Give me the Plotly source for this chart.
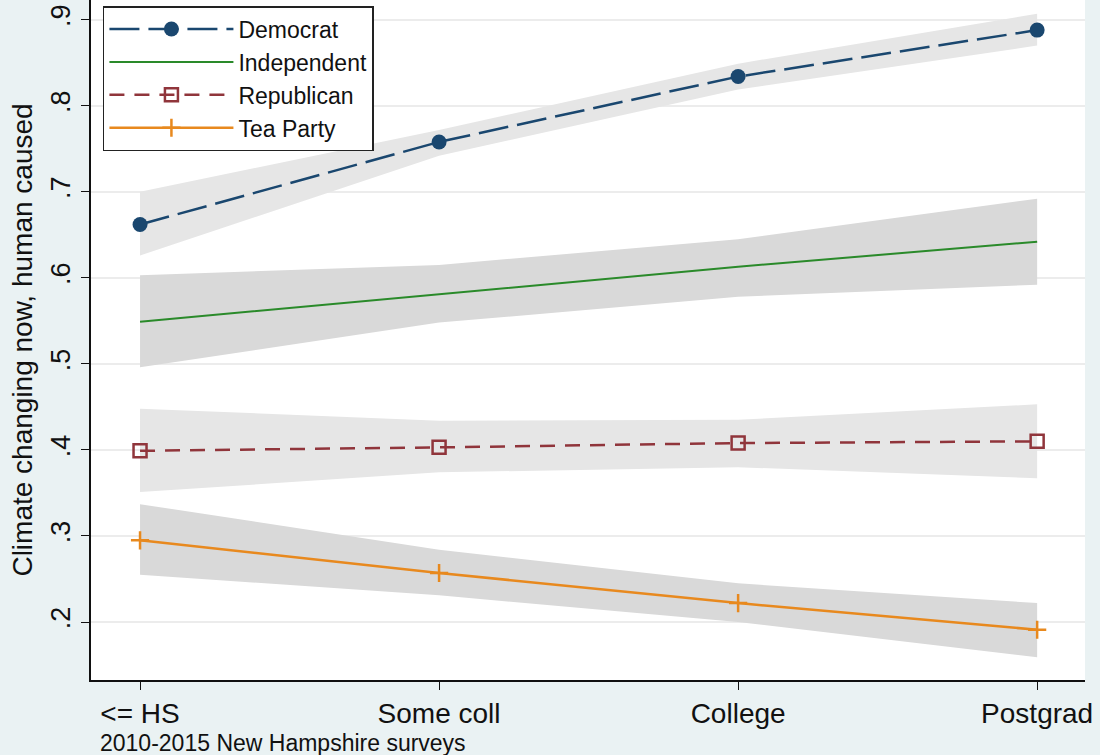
import plotly.graph_objects as go

categories = ["<= HS", "Some coll", "College", "Postgrad"]
xpos = [1, 2, 3, 4]

dem = [0.662, 0.758, 0.834, 0.888]
dem_lo = [0.626, 0.742, 0.819, 0.870]
dem_hi = [0.700, 0.772, 0.849, 0.907]

ind = [0.549, 0.581, 0.613, 0.642]
ind_lo = [0.496, 0.548, 0.578, 0.592]
ind_hi = [0.603, 0.615, 0.645, 0.692]

rep = [0.399, 0.403, 0.408, 0.410]
rep_lo = [0.351, 0.374, 0.380, 0.367]
rep_hi = [0.448, 0.434, 0.435, 0.453]

tea = [0.295, 0.257, 0.222, 0.191]
tea_lo = [0.255, 0.231, 0.200, 0.159]
tea_hi = [0.337, 0.284, 0.245, 0.222]

ytick_vals = [0.2, 0.3, 0.4, 0.5, 0.6, 0.7, 0.8, 0.9]
ytick_text = [".2", ".3", ".4", ".5", ".6", ".7", ".8", ".9"]

fig = go.Figure()

bands = [
    (dem_lo, dem_hi, "#e6e6e6"),
    (ind_lo, ind_hi, "#d9d9d9"),
    (rep_lo, rep_hi, "#e6e6e6"),
    (tea_lo, tea_hi, "#d9d9d9"),
]
for lo, hi, col in bands:
    fig.add_trace(go.Scatter(
        x=xpos + xpos[::-1], y=hi + lo[::-1], fill="toself",
        fillcolor=col, line=dict(width=0), mode="lines",
        showlegend=False, hoverinfo="skip"))

fig.add_trace(go.Scatter(
    x=xpos, y=dem, name="Democrat", mode="lines+markers",
    line=dict(color="#1a476f", width=2.5, dash="30px,9px"),
    marker=dict(symbol="circle", size=15, color="#1a476f")))
fig.add_trace(go.Scatter(
    x=xpos, y=ind, name="Independent", mode="lines",
    line=dict(color="#2a8a2a", width=2)))
fig.add_trace(go.Scatter(
    x=xpos, y=rep, name="Republican", mode="lines+markers",
    line=dict(color="#90353b", width=2.5, dash="15px,10px"),
    marker=dict(symbol="square-open", size=13, color="#90353b",
                line=dict(width=2.5, color="#90353b"))))
fig.add_trace(go.Scatter(
    x=xpos, y=tea, name="Tea Party", mode="lines+markers",
    line=dict(color="#e8891e", width=2.5),
    marker=dict(symbol="cross-thin-open", size=13, color="#e8891e",
                line=dict(width=2.5, color="#e8891e"))))

fig.update_layout(
    width=1100, height=755,
    margin=dict(l=91, r=15, t=0, b=75),
    paper_bgcolor="#eaf2f3",
    plot_bgcolor="white",
    font=dict(family="Liberation Sans, Arial, sans-serif", size=22, color="#111"),
    legend=dict(
        x=0.012, y=0.991, xanchor="left", yanchor="top",
        bgcolor="white", bordercolor="#222", borderwidth=1.5,
        font=dict(size=23), itemwidth=124, tracegroupgap=0),
    showlegend=True,
)
fig.update_xaxes(
    range=[0.836, 4.16], tickmode="array", tickvals=xpos, ticktext=categories,
    showline=True, linecolor="#111", linewidth=1.5, ticks="outside",
    ticklen=8, tickcolor="#111", showgrid=False, zeroline=False,
    tickfont=dict(size=28))
fig.update_yaxes(
    range=[0.1326, 0.923], tickmode="array", tickvals=ytick_vals,
    ticktext=ytick_text, tickangle=-90,
    showline=True, linecolor="#111", linewidth=1.5, ticks="outside",
    ticklen=8, tickcolor="#111", showgrid=True, gridcolor="#ececec",
    gridwidth=1.5, zeroline=False, tickfont=dict(size=27),
    title=dict(text="Climate changing now, human caused", font=dict(size=28),
               standoff=6))

fig.add_annotation(
    text="2010-2015 New Hampshire surveys", xref="paper", yref="paper",
    x=0.007, y=-0.093, xanchor="left", yanchor="middle", showarrow=False,
    font=dict(size=23))

fig.write_html(
    "out.html",
    config={"displayModeBar": False},
    post_script="document.body.style.margin='0';document.body.style.padding='0';"
                "document.body.style.overflow='hidden';")
